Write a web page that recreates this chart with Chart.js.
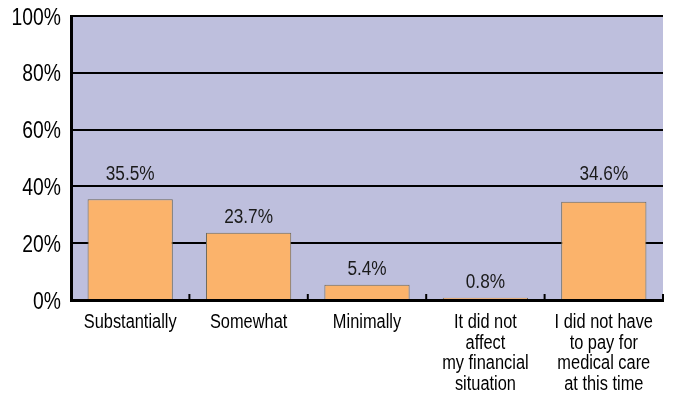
<!DOCTYPE html>
<html>
<head>
<meta charset="utf-8">
<script src="https://cdn.jsdelivr.net/npm/chart.js@4"></script>
<style>
  html, body { margin: 0; padding: 0; background: #fff; }
  #wrap { width: 673px; height: 394px; }
</style>
</head>
<body>
<div id="wrap"><canvas id="myChart" width="673" height="394"></canvas></div>
<script>
var categories = [
    ['Substantially'],
    ['Somewhat'],
    ['Minimally'],
    ['It did not', 'affect', 'my financial', 'situation'],
    ['I did not have', 'to pay for', 'medical care', 'at this time']
];
var percents = [35.5, 23.7, 5.4, 0.8, 34.6];
var yTicks = [0, 20, 40, 60, 80, 100];

var FONT = '"Liberation Sans", Arial, sans-serif';
var SQUEEZE = 0.84; // narrow lettering

function narrowText(c, text, x, y, size, align, color) {
    c.save();
    c.font = size + 'px ' + FONT;
    c.fillStyle = color;
    c.textAlign = align;
    c.textBaseline = 'alphabetic';
    c.translate(x, y);
    c.scale(SQUEEZE, 1);
    c.fillText(text, 0, 0);
    c.restore();
}

// lavender plot background
var plotBackground = {
    id: 'plotBackground',
    beforeDraw: function(chart) {
        var a = chart.chartArea, c = chart.ctx;
        c.save();
        c.fillStyle = '#bebfdd';
        c.fillRect(a.left, a.top, a.right - a.left, a.bottom - a.top);
        c.restore();
    }
};

// axis labels, small upward ticks between categories, value labels over the bars
var extras = {
    id: 'extras',
    afterDraw: function(chart) {
        var c = chart.ctx, x = chart.scales.x, y = chart.scales.y, a = chart.chartArea;

        yTicks.forEach(function(t) {
            narrowText(c, t + '%', a.left - 10, y.getPixelForValue(t) + 8.5, 23, 'right', '#000');
        });

        categories.forEach(function(lines, i) {
            lines.forEach(function(line, k) {
                narrowText(c, line, x.getPixelForValue(i), a.bottom + 28 + k * 20.7, 19.5, 'center', '#000');
            });
        });

        c.save();
        c.strokeStyle = '#000';
        c.lineWidth = 2;
        for (var i = 1; i <= categories.length; i++) {
            var px = i < categories.length
                ? (x.getPixelForValue(i - 1) + x.getPixelForValue(i)) / 2
                : a.right;
            c.beginPath();
            c.moveTo(px, a.bottom);
            c.lineTo(px, a.bottom - 6);
            c.stroke();
        }
        c.restore();

        var h = 15;
        chart.getDatasetMeta(0).data.forEach(function(bar, i) {
            var base = bar.y - 10;
            // keep the label clear of the grid lines
            yTicks.forEach(function(t) {
                var g = y.getPixelForValue(t);
                if (g > base - h - 2 && g < base + 2) base = g - 6;
            });
            narrowText(c, percents[i].toFixed(1) + '%', bar.x, base, 20.5, 'center', '#1a1a1a');
        });
    }
};

var ctx = document.getElementById('myChart').getContext('2d');
var chart = new Chart(ctx, {
    type: 'bar',
    data: {
        labels: categories.map(function(l) { return l.join(' '); }),
        datasets: [{
            data: percents,
            backgroundColor: '#fbb36b',
            borderColor: '#6e6a5c',
            borderWidth: 1,
            categoryPercentage: 1,
            barPercentage: 0.72
        }]
    },
    options: {
        responsive: false,
        animation: false,
        layout: { padding: { left: 0, right: 10, top: 16, bottom: 0 } },
        plugins: {
            legend: { display: false },
            tooltip: { enabled: false }
        },
        scales: {
            x: {
                grid: { display: false },
                border: { color: '#000', width: 3 },
                ticks: { display: false },
                afterFit: function(s) { s.height = 94; }
            },
            y: {
                min: 0,
                max: 100,
                afterBuildTicks: function(s) {
                    s.ticks = yTicks.map(function(v) { return { value: v }; });
                },
                grid: { color: '#000', lineWidth: 2, drawTicks: false },
                border: { color: '#000', width: 3 },
                ticks: { display: false },
                afterFit: function(s) { s.width = 71; }
            }
        }
    },
    plugins: [plotBackground, extras]
});
</script>
</body>
</html>
